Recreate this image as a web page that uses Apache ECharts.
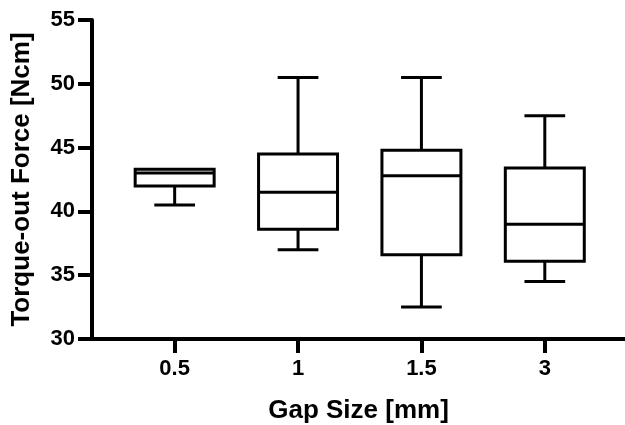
<!DOCTYPE html>
<html>
<head>
<meta charset="utf-8">
<script src="https://cdn.jsdelivr.net/npm/echarts@6/dist/echarts.min.js"></script>
<style>
html,body{margin:0;padding:0;background:#fff;}
#chart{width:625px;height:425px;}
</style>
</head>
<body>
<div id="chart"></div>
<script>
// Data
const categories = ['0.5', '1', '1.5', '3'];
const minValues = [40.5, 37.0, 32.5, 34.5];
const q1Values = [42.0, 38.6, 36.6, 36.1];
const medianValues = [43.0, 41.5, 42.8, 39.0];
const q3Values = [43.3, 44.5, 44.8, 43.4];
const maxValues = [43.3, 50.5, 50.5, 47.5];
const yTickValues = [30, 35, 40, 45, 50, 55];

const FONT = '"Liberation Sans", Arial, sans-serif';
const BOX_WIDTH = 0.64;   // in category units
const CAP_WIDTH = 0.33;

const seriesData = categories.map((c, i) => [i, minValues[i], q1Values[i], medianValues[i], q3Values[i], maxValues[i]]);

const chart = echarts.init(document.getElementById('chart'), null, {renderer: 'canvas'});

function renderItem(params, api) {
  const x = api.value(0);
  const pMin = api.coord([x, api.value(1)]);
  const pQ1 = api.coord([x, api.value(2)]);
  const pMed = api.coord([x, api.value(3)]);
  const pQ3 = api.coord([x, api.value(4)]);
  const pMax = api.coord([x, api.value(5)]);
  const bw = api.size([BOX_WIDTH, 0])[0];
  const cw = api.size([CAP_WIDTH, 0])[0];
  const cx = pMed[0];
  const style = {stroke: '#000', lineWidth: 3, fill: null};
  const children = [];
  if (api.value(5) > api.value(4)) {
    children.push({type: 'line', shape: {x1: cx, y1: pQ3[1], x2: cx, y2: pMax[1]}, style});
    children.push({type: 'line', shape: {x1: cx - cw / 2, y1: pMax[1], x2: cx + cw / 2, y2: pMax[1]}, style});
  }
  if (api.value(1) < api.value(2)) {
    children.push({type: 'line', shape: {x1: cx, y1: pQ1[1], x2: cx, y2: pMin[1]}, style});
    children.push({type: 'line', shape: {x1: cx - cw / 2, y1: pMin[1], x2: cx + cw / 2, y2: pMin[1]}, style});
  }
  children.push({type: 'rect', shape: {x: cx - bw / 2, y: pQ3[1], width: bw, height: pQ1[1] - pQ3[1]}, style: {stroke: '#000', lineWidth: 3, fill: '#fff'}});
  children.push({type: 'line', shape: {x1: cx - bw / 2, y1: pMed[1], x2: cx + bw / 2, y2: pMed[1]}, style});
  return {type: 'group', children};
}

chart.setOption({
  animation: false,
  backgroundColor: '#fff',
  grid: {left: 92, right: 0, top: 20, bottom: 86, containLabel: false, outerBoundsMode: 'none'},
  xAxis: {
    type: 'value',
    min: -0.67,
    max: 3.65,
    splitLine: {show: false},
    axisLine: {show: true, onZero: false, lineStyle: {color: '#000', width: 4}},
    axisTick: {show: true, customValues: [0, 1, 2, 3], length: 14, lineStyle: {color: '#000', width: 4}},
    axisLabel: {
      customValues: [0, 1, 2, 3],
      formatter: v => categories[Math.round(v)],
      color: '#000', fontFamily: FONT, fontWeight: 'bold', fontSize: 22, margin: 19
    },
    name: 'Gap Size [mm]',
    nameLocation: 'middle',
    nameGap: 59,
    nameTextStyle: {color: '#000', fontFamily: FONT, fontWeight: 'bold', fontSize: 26}
  },
  yAxis: {
    type: 'value',
    min: yTickValues[0],
    max: yTickValues[yTickValues.length - 1],
    interval: 5,
    splitLine: {show: false},
    axisLine: {show: true, onZero: false, lineStyle: {color: '#000', width: 4}},
    axisTick: {show: true, length: 14, lineStyle: {color: '#000', width: 4}},
    axisLabel: {color: '#000', fontFamily: FONT, fontWeight: 'bold', fontSize: 22, margin: 17},
    name: 'Torque-out Force [Ncm]',
    nameLocation: 'middle',
    nameGap: 57,
    nameTextStyle: {color: '#000', fontFamily: FONT, fontWeight: 'bold', fontSize: 26}
  },
  series: [{
    type: 'custom',
    renderItem: renderItem,
    encode: {x: 0, y: [1, 2, 3, 4, 5]},
    data: seriesData,
    clip: false
  }]
});
</script>
</body>
</html>
